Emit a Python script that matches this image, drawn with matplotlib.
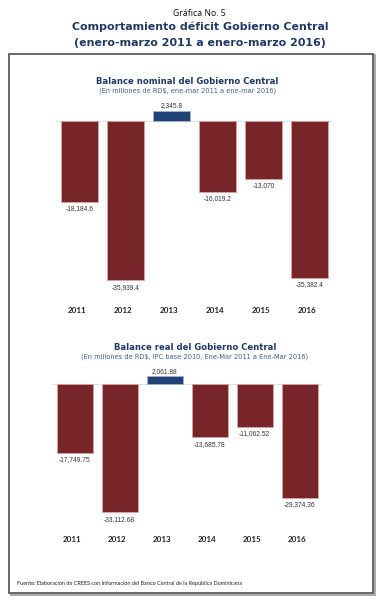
import matplotlib
matplotlib.use("Agg")
import matplotlib.pyplot as plt
from matplotlib.patches import Rectangle
from matplotlib.transforms import offset_copy

W, H = 383, 600
DPI = 100

years = ["2011", "2012", "2013", "2014", "2015", "2016"]
nominal = [-18184.6, -35939.4, 2345.8, -16019.2, -13070, -35382.4]
nominal_labels = ["-18,184.6", "-35,939.4", "2,345.8", "-16,019.2", "-13,070", "-35,382.4"]
real = [-17749.75, -33112.68, 2061.88, -13685.78, -11062.52, -29374.36]
real_labels = ["-17,749.75", "-33,112.68", "2,061.88", "-13,685.78", "-11,062.52", "-29,374.36"]

RED = "#78252A"
BLUE = "#1F4174"
NAVY = "#1F3864"
SUBC = "#3E5F8F"

fig = plt.figure(figsize=(W / DPI, H / DPI), dpi=DPI)
fig.patch.set_facecolor("white")


def fx(px):
    return px / W


def fy(py):
    return 1 - py / H


renderer = fig.canvas.get_renderer()


def fit(t, target_px):
    bb = t.get_window_extent(renderer=renderer)
    t.set_fontsize(t.get_fontsize() * target_px / bb.width)


# outer frame with slight shadow
fig.add_artist(Rectangle((fx(10.5), fy(594.5)), fx(364), 540 / H, transform=fig.transFigure,
                         facecolor="none", edgecolor="#9A9A9A", lw=1.2, zorder=0))
fig.add_artist(Rectangle((fx(9), fy(593)), fx(364), 539 / H, transform=fig.transFigure,
                         facecolor="white", edgecolor="#5A5A5A", lw=1.3, zorder=1))

t = fig.text(fx(199), fy(13), "Gráfica No. 5", ha="center", va="center",
             fontsize=7.5, family="Open Sans", color="#111111")
fit(t, 53)
t = fig.text(fx(200), fy(26.5), "Comportamiento déficit Gobierno Central", ha="center", va="center",
             fontsize=9, family="DejaVu Sans", weight="bold", color=NAVY)
fit(t, 255)
t = fig.text(fx(200), fy(42.5), "(enero-marzo 2011 a enero-marzo 2016)", ha="center", va="center",
             fontsize=9, family="DejaVu Sans", weight="bold", color=NAVY)
fit(t, 252)


def panel(values, labels, title, subtitle, title_y, title_w, sub_w, title_cx, sub_cx,
          left, unit, zero_y, scale, top_px, bot_px, year_y):
    ax = fig.add_axes([fx(left), fy(bot_px), fx(unit * 6), (bot_px - top_px) / H])
    ax.set_zorder(2)
    ax.patch.set_alpha(0)
    x = list(range(len(values)))
    colors = [BLUE if v > 0 else RED for v in values]
    edges = ["#9FB3D0" if v > 0 else "#D9A3A3" for v in values]
    ax.bar(x, values, width=0.8, color=colors, edgecolor=edges, linewidth=0.6, zorder=3)
    ax.axhline(0, color="#E3E3E3", lw=0.8, zorder=2)
    ax.set_xlim(-0.5, 5.5)
    ytop = (zero_y - top_px) / scale * 1000
    ybot = -(bot_px - zero_y) / scale * 1000
    ax.set_ylim(ybot, ytop)
    for s in ax.spines.values():
        s.set_visible(False)
    ax.set_yticks([])
    ax.set_xticks([])
    for xi, v, lab in zip(x, values, labels):
        if v > 0:
            tr = offset_copy(ax.transData, fig=fig, y=0.8, units="points")
            ax.text(xi, v, lab, ha="center", va="bottom", fontsize=4.8,
                    family="Liberation Sans", color="#333333", transform=tr)
        else:
            tr = offset_copy(ax.transData, fig=fig, y=-2.5, units="points")
            ax.text(xi, v, lab, ha="center", va="top", fontsize=4.8,
                    family="Liberation Sans", color="#333333", transform=tr)
    for xi, yr in zip(x, years):
        fig.text(fx(left + unit * (xi + 0.5) - 2), fy(year_y), yr, ha="center", va="center",
                 fontsize=5.8, family="Lato", weight="bold", color="#222222")
    t1 = fig.text(fx(title_cx), fy(title_y), title, ha="center", va="center",
                  fontsize=7, family="DejaVu Sans", weight="bold", color=NAVY)
    fit(t1, title_w)
    t2 = fig.text(fx(sub_cx), fy(title_y + 9.5), subtitle, ha="center", va="center",
                  fontsize=5, family="DejaVu Sans", color=SUBC)
    fit(t2, sub_w)
    return ax


panel(nominal, nominal_labels, "Balance nominal del Gobierno Central",
      "(En millones de RD$, ene-mar 2011 a ene-mar 2016)",
      title_y=81, title_w=184, sub_w=177, title_cx=187, sub_cx=187.5,
      left=56.5, unit=46, zero_y=121, scale=4.43, top_px=100, bot_px=300, year_y=310)

panel(real, real_labels, "Balance real del Gobierno Central",
      "(En millones de RD$, IPC base 2010, Ene-Mar 2011 a Ene-Mar 2016)",
      title_y=347, title_w=164, sub_w=228, title_cx=195, sub_cx=195,
      left=52, unit=45, zero_y=384, scale=3.88, top_px=365, bot_px=525, year_y=540)

t = fig.text(fx(17), fy(583), "Fuente: Elaboración de CREES con información del Banco Central de la República Dominicana",
             ha="left", va="center", fontsize=4, family="Lato", color="#222222")
fit(t, 221)

fig.savefig("out.png", dpi=DPI)
